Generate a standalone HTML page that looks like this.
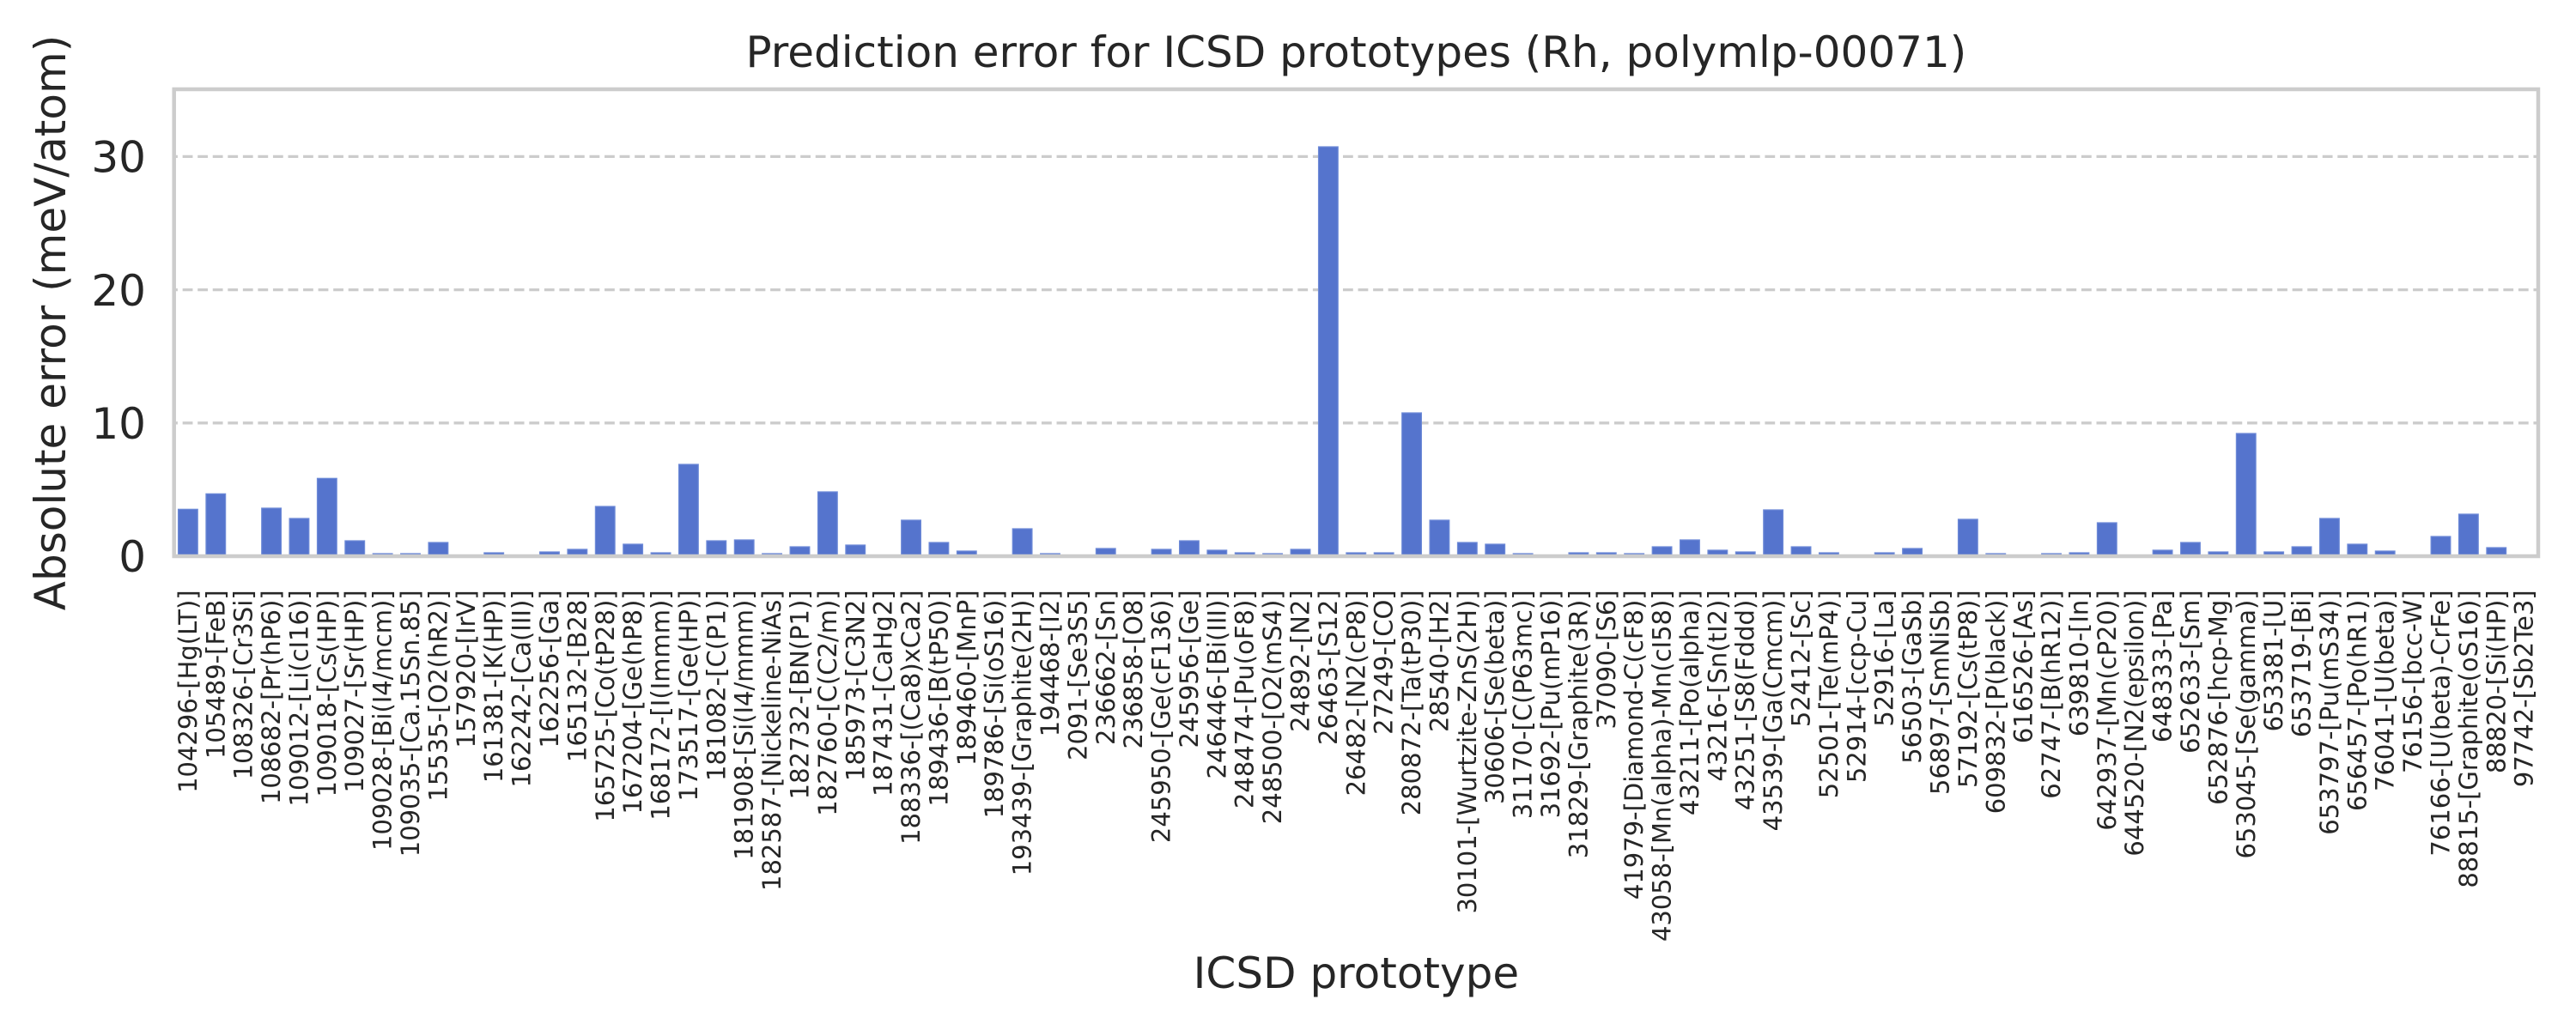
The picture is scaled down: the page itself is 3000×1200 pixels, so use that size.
<!DOCTYPE html>
<html>
<head>
<meta charset="utf-8">
<style>
html,body{margin:0;padding:0;background:#ffffff;}
svg{display:block;}
text{font-family:"DejaVu Sans","Liberation Sans",sans-serif;fill:#262626;}
</style>
</head>
<body>
<svg width="3000" height="1200" viewBox="0 0 3000 1200" xmlns="http://www.w3.org/2000/svg">
<rect x="0" y="0" width="3000" height="1200" fill="#ffffff"/>

<!-- grid -->
<g stroke="#cccccc" stroke-width="3.3" stroke-dasharray="11.8 5.75" stroke-dashoffset="7.6" fill="none">
<line x1="202.7" y1="492.8" x2="2956" y2="492.8"/>
<line x1="202.7" y1="337.6" x2="2956" y2="337.6"/>
<line x1="202.7" y1="182.4" x2="2956" y2="182.4"/>
</g>

<!-- bars -->
<g fill="#5574cd" stroke="#6d8ad7" stroke-width="1.2">
<rect x="207.55" y="593.3" width="22.7" height="54.7"/>
<rect x="239.94" y="575.3" width="22.7" height="72.7"/>
<rect x="304.72" y="592" width="22.7" height="56"/>
<rect x="337.11" y="604" width="22.7" height="44"/>
<rect x="369.50" y="557.3" width="22.7" height="90.7"/>
<rect x="401.89" y="630" width="22.7" height="18"/>
<rect x="434.28" y="645" width="22.7" height="3"/>
<rect x="466.67" y="645" width="22.7" height="3"/>
<rect x="499.06" y="632" width="22.7" height="16"/>
<rect x="563.84" y="644" width="22.7" height="4"/>
<rect x="628.62" y="643" width="22.7" height="5"/>
<rect x="661.01" y="640" width="22.7" height="8"/>
<rect x="693.40" y="590" width="22.7" height="58"/>
<rect x="725.79" y="634" width="22.7" height="14"/>
<rect x="758.18" y="644" width="22.7" height="4"/>
<rect x="790.57" y="541" width="22.7" height="107"/>
<rect x="822.96" y="630" width="22.7" height="18"/>
<rect x="855.35" y="629" width="22.7" height="19"/>
<rect x="887.74" y="645" width="22.7" height="3"/>
<rect x="920.13" y="637" width="22.7" height="11"/>
<rect x="952.52" y="573" width="22.7" height="75"/>
<rect x="984.91" y="635" width="22.7" height="13"/>
<rect x="1049.69" y="606" width="22.7" height="42"/>
<rect x="1082.08" y="632" width="22.7" height="16"/>
<rect x="1114.47" y="642" width="22.7" height="6"/>
<rect x="1179.25" y="616" width="22.7" height="32"/>
<rect x="1211.64" y="645" width="22.7" height="3"/>
<rect x="1276.42" y="639" width="22.7" height="9"/>
<rect x="1341.20" y="640" width="22.7" height="8"/>
<rect x="1373.59" y="630" width="22.7" height="18"/>
<rect x="1405.98" y="641" width="22.7" height="7"/>
<rect x="1438.37" y="644" width="22.7" height="4"/>
<rect x="1470.76" y="645" width="22.7" height="3"/>
<rect x="1503.15" y="640" width="22.7" height="8"/>
<rect x="1535.54" y="171" width="22.7" height="477"/>
<rect x="1567.93" y="644" width="22.7" height="4"/>
<rect x="1600.32" y="644" width="22.7" height="4"/>
<rect x="1632.71" y="481" width="22.7" height="167"/>
<rect x="1665.10" y="606" width="22.7" height="42"/>
<rect x="1697.49" y="632" width="22.7" height="16"/>
<rect x="1729.88" y="634" width="22.7" height="14"/>
<rect x="1762.27" y="645" width="22.7" height="3"/>
<rect x="1827.05" y="644" width="22.7" height="4"/>
<rect x="1859.44" y="644" width="22.7" height="4"/>
<rect x="1891.83" y="645" width="22.7" height="3"/>
<rect x="1924.22" y="637" width="22.7" height="11"/>
<rect x="1956.61" y="629" width="22.7" height="19"/>
<rect x="1989.00" y="641" width="22.7" height="7"/>
<rect x="2021.39" y="643" width="22.7" height="5"/>
<rect x="2053.78" y="594" width="22.7" height="54"/>
<rect x="2086.17" y="637" width="22.7" height="11"/>
<rect x="2118.56" y="644" width="22.7" height="4"/>
<rect x="2183.34" y="644" width="22.7" height="4"/>
<rect x="2215.73" y="639" width="22.7" height="9"/>
<rect x="2280.51" y="605" width="22.7" height="43"/>
<rect x="2312.90" y="645" width="22.7" height="3"/>
<rect x="2377.68" y="645" width="22.7" height="3"/>
<rect x="2410.07" y="644" width="22.7" height="4"/>
<rect x="2442.46" y="609" width="22.7" height="39"/>
<rect x="2507.24" y="641" width="22.7" height="7"/>
<rect x="2539.63" y="632" width="22.7" height="16"/>
<rect x="2572.02" y="643" width="22.7" height="5"/>
<rect x="2604.41" y="505" width="22.7" height="143"/>
<rect x="2636.80" y="643" width="22.7" height="5"/>
<rect x="2669.19" y="637" width="22.7" height="11"/>
<rect x="2701.58" y="604" width="22.7" height="44"/>
<rect x="2733.97" y="634" width="22.7" height="14"/>
<rect x="2766.36" y="642" width="22.7" height="6"/>
<rect x="2831.14" y="625" width="22.7" height="23"/>
<rect x="2863.53" y="599" width="22.7" height="49"/>
<rect x="2895.92" y="638" width="22.7" height="10"/>
</g>

<!-- spines -->
<rect x="202.7" y="104" width="2753.3" height="544" fill="none" stroke="#cccccc" stroke-width="4.5"/>

<!-- title -->
<text x="1579.4" y="78" font-size="50" text-anchor="middle">Prediction error for ICSD prototypes (Rh, polymlp-00071)</text>

<!-- y ticks -->
<g font-size="50" text-anchor="end">
<text x="170" y="666.2">0</text>
<text x="170" y="511">10</text>
<text x="170" y="355.8">20</text>
<text x="170" y="200.6">30</text>
</g>

<!-- y label -->
<text transform="translate(76,376) rotate(-90)" font-size="50" text-anchor="middle">Absolute error (meV/atom)</text>

<!-- x label -->
<text x="1579.4" y="1151" font-size="50" text-anchor="middle">ICSD prototype</text>

<!-- x tick labels -->
<g font-size="29" text-anchor="end">
<text transform="translate(228.90,687.4) rotate(-90)">104296-[Hg(LT)]</text>
<text transform="translate(261.29,687.4) rotate(-90)">105489-[FeB]</text>
<text transform="translate(293.68,687.4) rotate(-90)">108326-[Cr3Si]</text>
<text transform="translate(326.07,687.4) rotate(-90)">108682-[Pr(hP6)]</text>
<text transform="translate(358.46,687.4) rotate(-90)">109012-[Li(cI16)]</text>
<text transform="translate(390.85,687.4) rotate(-90)">109018-[Cs(HP)]</text>
<text transform="translate(423.24,687.4) rotate(-90)">109027-[Sr(HP)]</text>
<text transform="translate(455.63,687.4) rotate(-90)">109028-[Bi(I4/mcm)]</text>
<text transform="translate(488.02,687.4) rotate(-90)">109035-[Ca.15Sn.85]</text>
<text transform="translate(520.41,687.4) rotate(-90)">15535-[O2(hR2)]</text>
<text transform="translate(552.80,687.4) rotate(-90)">157920-[IrV]</text>
<text transform="translate(585.19,687.4) rotate(-90)">161381-[K(HP)]</text>
<text transform="translate(617.58,687.4) rotate(-90)">162242-[Ca(III)]</text>
<text transform="translate(649.97,687.4) rotate(-90)">162256-[Ga]</text>
<text transform="translate(682.36,687.4) rotate(-90)">165132-[B28]</text>
<text transform="translate(714.75,687.4) rotate(-90)">165725-[Co(tP28)]</text>
<text transform="translate(747.14,687.4) rotate(-90)">167204-[Ge(hP8)]</text>
<text transform="translate(779.53,687.4) rotate(-90)">168172-[I(Immm)]</text>
<text transform="translate(811.92,687.4) rotate(-90)">173517-[Ge(HP)]</text>
<text transform="translate(844.31,687.4) rotate(-90)">181082-[C(P1)]</text>
<text transform="translate(876.70,687.4) rotate(-90)">181908-[Si(I4/mmm)]</text>
<text transform="translate(909.09,687.4) rotate(-90)">182587-[Nickeline-NiAs]</text>
<text transform="translate(941.48,687.4) rotate(-90)">182732-[BN(P1)]</text>
<text transform="translate(973.87,687.4) rotate(-90)">182760-[C(C2/m)]</text>
<text transform="translate(1006.26,687.4) rotate(-90)">185973-[C3N2]</text>
<text transform="translate(1038.65,687.4) rotate(-90)">187431-[CaHg2]</text>
<text transform="translate(1071.04,687.4) rotate(-90)">188336-[(Ca8)xCa2]</text>
<text transform="translate(1103.43,687.4) rotate(-90)">189436-[B(tP50)]</text>
<text transform="translate(1135.82,687.4) rotate(-90)">189460-[MnP]</text>
<text transform="translate(1168.21,687.4) rotate(-90)">189786-[Si(oS16)]</text>
<text transform="translate(1200.60,687.4) rotate(-90)">193439-[Graphite(2H)]</text>
<text transform="translate(1232.99,687.4) rotate(-90)">194468-[I2]</text>
<text transform="translate(1265.38,687.4) rotate(-90)">2091-[Se3S5]</text>
<text transform="translate(1297.77,687.4) rotate(-90)">236662-[Sn]</text>
<text transform="translate(1330.16,687.4) rotate(-90)">236858-[O8]</text>
<text transform="translate(1362.55,687.4) rotate(-90)">245950-[Ge(cF136)]</text>
<text transform="translate(1394.94,687.4) rotate(-90)">245956-[Ge]</text>
<text transform="translate(1427.33,687.4) rotate(-90)">246446-[Bi(III)]</text>
<text transform="translate(1459.72,687.4) rotate(-90)">248474-[Pu(oF8)]</text>
<text transform="translate(1492.11,687.4) rotate(-90)">248500-[O2(mS4)]</text>
<text transform="translate(1524.50,687.4) rotate(-90)">24892-[N2]</text>
<text transform="translate(1556.89,687.4) rotate(-90)">26463-[S12]</text>
<text transform="translate(1589.28,687.4) rotate(-90)">26482-[N2(cP8)]</text>
<text transform="translate(1621.67,687.4) rotate(-90)">27249-[CO]</text>
<text transform="translate(1654.06,687.4) rotate(-90)">280872-[Ta(tP30)]</text>
<text transform="translate(1686.45,687.4) rotate(-90)">28540-[H2]</text>
<text transform="translate(1718.84,687.4) rotate(-90)">30101-[Wurtzite-ZnS(2H)]</text>
<text transform="translate(1751.23,687.4) rotate(-90)">30606-[Se(beta)]</text>
<text transform="translate(1783.62,687.4) rotate(-90)">31170-[C(P63mc)]</text>
<text transform="translate(1816.01,687.4) rotate(-90)">31692-[Pu(mP16)]</text>
<text transform="translate(1848.40,687.4) rotate(-90)">31829-[Graphite(3R)]</text>
<text transform="translate(1880.79,687.4) rotate(-90)">37090-[S6]</text>
<text transform="translate(1913.18,687.4) rotate(-90)">41979-[Diamond-C(cF8)]</text>
<text transform="translate(1945.57,687.4) rotate(-90)">43058-[Mn(alpha)-Mn(cI58)]</text>
<text transform="translate(1977.96,687.4) rotate(-90)">43211-[Po(alpha)]</text>
<text transform="translate(2010.35,687.4) rotate(-90)">43216-[Sn(tI2)]</text>
<text transform="translate(2042.74,687.4) rotate(-90)">43251-[S8(Fddd)]</text>
<text transform="translate(2075.13,687.4) rotate(-90)">43539-[Ga(Cmcm)]</text>
<text transform="translate(2107.52,687.4) rotate(-90)">52412-[Sc]</text>
<text transform="translate(2139.91,687.4) rotate(-90)">52501-[Te(mP4)]</text>
<text transform="translate(2172.30,687.4) rotate(-90)">52914-[ccp-Cu]</text>
<text transform="translate(2204.69,687.4) rotate(-90)">52916-[La]</text>
<text transform="translate(2237.08,687.4) rotate(-90)">56503-[GaSb]</text>
<text transform="translate(2269.47,687.4) rotate(-90)">56897-[SmNiSb]</text>
<text transform="translate(2301.86,687.4) rotate(-90)">57192-[Cs(tP8)]</text>
<text transform="translate(2334.25,687.4) rotate(-90)">609832-[P(black)]</text>
<text transform="translate(2366.64,687.4) rotate(-90)">616526-[As]</text>
<text transform="translate(2399.03,687.4) rotate(-90)">62747-[B(hR12)]</text>
<text transform="translate(2431.42,687.4) rotate(-90)">639810-[In]</text>
<text transform="translate(2463.81,687.4) rotate(-90)">642937-[Mn(cP20)]</text>
<text transform="translate(2496.20,687.4) rotate(-90)">644520-[N2(epsilon)]</text>
<text transform="translate(2528.59,687.4) rotate(-90)">648333-[Pa]</text>
<text transform="translate(2560.98,687.4) rotate(-90)">652633-[Sm]</text>
<text transform="translate(2593.37,687.4) rotate(-90)">652876-[hcp-Mg]</text>
<text transform="translate(2625.76,687.4) rotate(-90)">653045-[Se(gamma)]</text>
<text transform="translate(2658.15,687.4) rotate(-90)">653381-[U]</text>
<text transform="translate(2690.54,687.4) rotate(-90)">653719-[Bi]</text>
<text transform="translate(2722.93,687.4) rotate(-90)">653797-[Pu(mS34)]</text>
<text transform="translate(2755.32,687.4) rotate(-90)">656457-[Po(hR1)]</text>
<text transform="translate(2787.71,687.4) rotate(-90)">76041-[U(beta)]</text>
<text transform="translate(2820.10,687.4) rotate(-90)">76156-[bcc-W]</text>
<text transform="translate(2852.49,687.4) rotate(-90)">76166-[U(beta)-CrFe]</text>
<text transform="translate(2884.88,687.4) rotate(-90)">88815-[Graphite(oS16)]</text>
<text transform="translate(2917.27,687.4) rotate(-90)">88820-[Si(HP)]</text>
<text transform="translate(2949.66,687.4) rotate(-90)">97742-[Sb2Te3]</text>
</g>
</svg>
</body>
</html>
